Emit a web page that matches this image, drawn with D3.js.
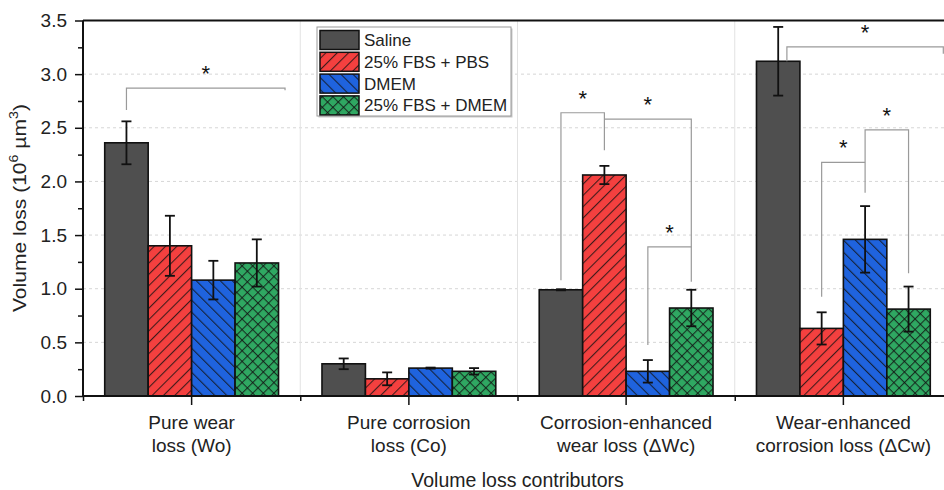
<!DOCTYPE html>
<meta charset="utf-8">
<script src="https://d3js.org/d3.v7.min.js"></script>
<style>
  body { margin: 0; background: #fff; }
  text { font-family: "Liberation Sans", Arial, sans-serif; fill: #222; }
</style>
<body>
<div id="chart"></div>
<script>

// categories (two-line tick labels)
var categories = ["Wo", "Co", "dWc", "dCw"];
var catLabels = [
  ["Pure wear", "loss (Wo)"],
  ["Pure corrosion", "loss (Co)"],
  ["Corrosion-enhanced", "wear loss (\u0394Wc)"],
  ["Wear-enhanced", "corrosion loss (\u0394Cw)"]
];
var seriesNames = ["Saline", "25% FBS + PBS", "DMEM", "25% FBS + DMEM"];

// mean values per series, one per category
var saline    = [2.36, 0.30, 0.99, 3.12];
var fbsPbs    = [1.40, 0.16, 2.06, 0.63];
var dmem      = [1.08, 0.26, 0.23, 1.46];
var fbsDmem   = [1.24, 0.23, 0.82, 0.81];

// error (half-width) per series
var salineErr  = [0.20, 0.05, 0.005, 0.32];
var fbsPbsErr  = [0.28, 0.06, 0.085, 0.15];
var dmemErr    = [0.18, 0.005, 0.105, 0.31];
var fbsDmemErr = [0.22, 0.03, 0.17, 0.21];

var yTicks = [0, 0.5, 1.0, 1.5, 2.0, 2.5, 3.0, 3.5];

// significance brackets: [category index, left bar, left leg bottom, right bar, right leg bottom, bracket top]
var brackets = [
  [0, 0, 2.665, 3.65, 2.85, 2.87],
  [2, 0, 1.08, 1, 2.29, 2.64],
  [2, 1, 2.58, 3, 1.065, 2.58],
  [2, 2, 0.475, 3, 1.39, 1.39],
  [3, 0.2, 3.12, 3.8, 3.19, 3.255],
  [3, 1, 0.925, 2, 2.178, 2.178],
  [3, 2, 1.895, 3, 1.143, 2.48]
];

var values = [saline, fbsPbs, dmem, fbsDmem];
var errors = [salineErr, fbsPbsErr, dmemErr, fbsDmemErr];
var colors = ["#4f4f4f", "#f4403f", "#1f63de", "#2fa862"];
var patterns = [null, "hatchR", "hatchB", "hatchG"];

var W = 944, H = 490;
var pLeft = 83, pRight = 952, pTop = 20.5, pBottom = 396;

var svg = d3.select("#chart").append("svg")
  .attr("width", W).attr("height", H);

// hatch patterns
var defs = svg.append("defs");
function hatch(id, angle, cross, size) {
  var p = defs.append("pattern")
    .attr("id", id)
    .attr("patternUnits", "userSpaceOnUse")
    .attr("width", size).attr("height", size)
    .attr("patternTransform", "rotate(" + angle + ")");
  p.append("line").attr("x1", 0.5).attr("y1", 0).attr("x2", 0.5).attr("y2", size)
    .attr("stroke", "#111").attr("stroke-width", 1.2).attr("stroke-opacity", 0.8);
  if (cross) {
    p.append("line").attr("x1", 0).attr("y1", 0.5).attr("x2", size).attr("y2", 0.5)
      .attr("stroke", "#111").attr("stroke-width", 1.2).attr("stroke-opacity", 0.8);
  }
}
hatch("hatchR", 45, false, 8);
hatch("hatchB", -45, false, 8.5);
hatch("hatchG", 45, true, 7.5);

var x0 = d3.scaleBand().domain(categories).range([pLeft, pRight]).padding(0);
var x1 = d3.scaleBand().domain(seriesNames)
  .range([x0.bandwidth() * 0.1, x0.bandwidth() * 0.9]).padding(0);
var y = d3.scaleLinear().domain([0, 3.5]).range([pBottom, pTop]);

// grid
svg.append("g").selectAll("line")
  .data(yTicks.filter(function(d) { return d > 0 && d < 3.5; }))
  .enter().append("line")
  .attr("x1", pLeft).attr("x2", W)
  .attr("y1", function(d) { return y(d); }).attr("y2", function(d) { return y(d); })
  .attr("stroke", "#d6d6d6").attr("stroke-dasharray", "3,3");

svg.append("g").selectAll("line")
  .data(categories.slice(1))
  .enter().append("line")
  .attr("x1", function(d) { return x0(d); }).attr("x2", function(d) { return x0(d); })
  .attr("y1", pTop).attr("y2", pBottom)
  .attr("stroke", "#e2e2e2");

// bars
var groups = svg.append("g").selectAll("g")
  .data(categories)
  .enter().append("g")
  .attr("transform", function(d) { return "translate(" + x0(d) + ",0)"; });

seriesNames.forEach(function(s, si) {
  var layer = groups.append("g");
  layer.append("rect")
    .attr("x", x1(s))
    .attr("width", x1.bandwidth())
    .attr("y", function(d, i) { return y(values[si][i]); })
    .attr("height", function(d, i) { return y(0) - y(values[si][i]); })
    .attr("fill", colors[si]);
  if (patterns[si]) {
    layer.append("rect")
      .attr("x", x1(s))
      .attr("width", x1.bandwidth())
      .attr("y", function(d, i) { return y(values[si][i]); })
      .attr("height", function(d, i) { return y(0) - y(values[si][i]); })
      .attr("fill", "url(#" + patterns[si] + ")");
  }
  layer.append("rect")
    .attr("x", x1(s))
    .attr("width", x1.bandwidth())
    .attr("y", function(d, i) { return y(values[si][i]); })
    .attr("height", function(d, i) { return y(0) - y(values[si][i]); })
    .attr("fill", "none").attr("stroke", "#111").attr("stroke-width", 1.6);
});

// error bars
seriesNames.forEach(function(s, si) {
  var cx = x1(s) + x1.bandwidth() / 2;
  var eb = groups.append("g").attr("stroke", "#111").attr("stroke-width", 1.8);
  eb.append("line")
    .attr("x1", cx).attr("x2", cx)
    .attr("y1", function(d, i) { return y(values[si][i] + errors[si][i]); })
    .attr("y2", function(d, i) { return y(values[si][i] - errors[si][i]); });
  [1, -1].forEach(function(sign) {
    eb.append("line")
      .attr("x1", cx - 5).attr("x2", cx + 5)
      .attr("y1", function(d, i) { return y(values[si][i] + sign * errors[si][i]); })
      .attr("y2", function(d, i) { return y(values[si][i] + sign * errors[si][i]); });
  });
});

// significance brackets
function barX(g, b) {
  return x0(categories[g]) + x1(seriesNames[0]) + x1.bandwidth() * (b + 0.5);
}
var br = svg.append("g");
brackets.forEach(function(b) {
  var xa = barX(b[0], b[1]), xb = barX(b[0], b[3]);
  br.append("path")
    .attr("d", "M" + xa + "," + y(b[2]) + "V" + y(b[5]) + "H" + xb + "V" + y(b[4]))
    .attr("fill", "none").attr("stroke", "#9a9a9a").attr("stroke-width", 1.2);
  br.append("text")
    .attr("x", (xa + xb) / 2).attr("y", y(b[5]) - 20 + 13)
    .attr("text-anchor", "middle")
    .style("font-size", "22px")
    .style("fill", "#111")
    .text("*");
});

// axes
var yAxis = svg.append("g")
  .attr("transform", "translate(" + pLeft + ",0)")
  .call(d3.axisLeft(y).tickValues(yTicks).tickSize(8).tickPadding(8)
    .tickFormat(d3.format(".1f")));
yAxis.select(".domain").remove();
yAxis.selectAll("line").attr("stroke", "#111").attr("stroke-width", 1.5);
yAxis.selectAll("text").style("font-size", "19px")
  .style("font-family", "'Liberation Sans', Arial, sans-serif").attr("fill", "#222");

var yMinor = svg.append("g")
  .attr("transform", "translate(" + pLeft + ",0)")
  .call(d3.axisLeft(y).tickValues(d3.range(0.25, 3.5, 0.5)).tickSize(5).tickFormat(""));
yMinor.select(".domain").remove();
yMinor.selectAll("line").attr("stroke", "#111").attr("stroke-width", 1.5);

var xAxis = svg.append("g")
  .attr("transform", "translate(0," + pBottom + ")")
  .call(d3.axisBottom(x0).tickSize(9).tickFormat(""));
xAxis.select(".domain").remove();
xAxis.selectAll("line").attr("stroke", "#111").attr("stroke-width", 1.5);

var xMinor = svg.append("g")
  .attr("transform", "translate(0," + pBottom + ")")
  .call(d3.axisBottom(d3.scaleLinear().domain([0, 4]).range([pLeft, pRight]))
    .tickValues([0, 1, 2, 3]).tickSize(5).tickFormat(""));
xMinor.select(".domain").remove();
xMinor.selectAll("line").attr("stroke", "#111").attr("stroke-width", 1.5);

// frame lines
svg.append("line").attr("x1", pLeft).attr("x2", W).attr("y1", pTop).attr("y2", pTop)
  .attr("stroke", "#111").attr("stroke-width", 2);
svg.append("line").attr("x1", pLeft).attr("x2", W).attr("y1", pBottom).attr("y2", pBottom)
  .attr("stroke", "#111").attr("stroke-width", 2);
svg.append("line").attr("x1", pLeft).attr("x2", pLeft).attr("y1", pTop).attr("y2", pBottom)
  .attr("stroke", "#111").attr("stroke-width", 2);

// category labels
categories.forEach(function(c, i) {
  var t = svg.append("text")
    .attr("x", x0(c) + x0.bandwidth() / 2)
    .attr("y", pBottom + 33)
    .attr("text-anchor", "middle")
    .style("font-size", "19px");
  catLabels[i].forEach(function(line, k) {
    t.append("tspan")
      .attr("x", x0(c) + x0.bandwidth() / 2)
      .attr("dy", k === 0 ? 0 : 23)
      .text(line);
  });
});

// axis titles
svg.append("text")
  .attr("x", (pLeft + pRight) / 2).attr("y", 487)
  .attr("text-anchor", "middle")
  .style("font-size", "19.5px")
  .text("Volume loss contributors");

var yt = svg.append("text")
  .attr("transform", "translate(26,208) rotate(-90)")
  .attr("text-anchor", "middle")
  .attr("textLength", 208)
  .attr("lengthAdjust", "spacingAndGlyphs")
  .style("font-size", "19px");
yt.append("tspan").text("Volume loss (10");
yt.append("tspan").attr("dy", -8).style("font-size", "13px").text("6");
yt.append("tspan").attr("dy", 8).text(" \u00b5m");
yt.append("tspan").attr("dy", -8).style("font-size", "13px").text("3");
yt.append("tspan").attr("dy", 8).text(")");

// legend
var lg = svg.append("g").attr("transform", "translate(317,27)");
lg.append("rect").attr("x", 1.5).attr("y", 1.5).attr("width", 194).attr("height", 89)
  .attr("fill", "#c8c8c8");
lg.append("rect").attr("width", 194).attr("height", 89)
  .attr("fill", "#fff").attr("stroke", "#9a9a9a").attr("stroke-width", 1);
seriesNames.forEach(function(s, si) {
  var ry = 3.5 + si * 21.8;
  lg.append("rect").attr("x", 3).attr("y", ry).attr("width", 39).attr("height", 19)
    .attr("fill", colors[si]);
  if (patterns[si]) {
    lg.append("rect").attr("x", 3).attr("y", ry).attr("width", 39).attr("height", 19)
      .attr("fill", "url(#" + patterns[si] + ")");
  }
  lg.append("rect").attr("x", 3).attr("y", ry).attr("width", 39).attr("height", 19)
    .attr("fill", "none").attr("stroke", "#111").attr("stroke-width", 1.5);
  lg.append("text").attr("x", 47).attr("y", ry + 15.5)
    .style("font-size", "17px")
    .text(s);
});

</script>
</body>
